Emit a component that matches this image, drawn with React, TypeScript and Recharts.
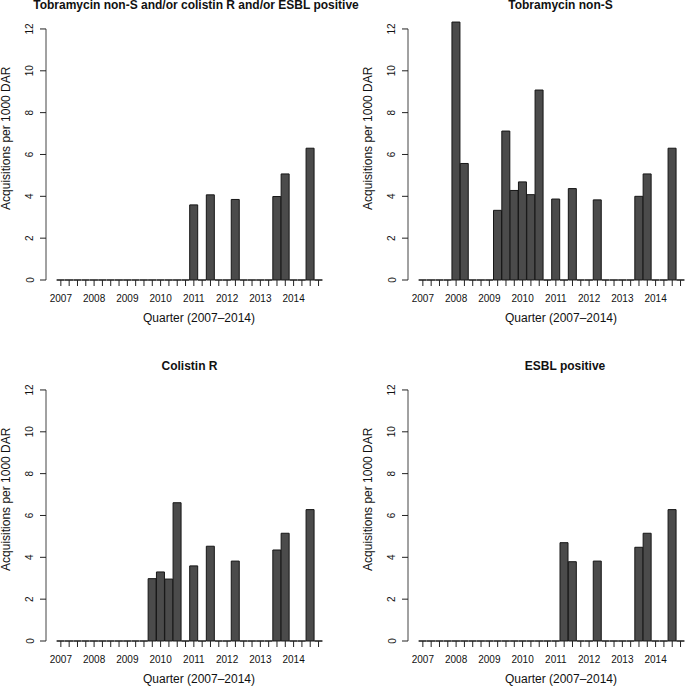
import React from 'react';
import { BarChart, Bar, XAxis, YAxis, ReferenceLine } from 'recharts';

// quarters 2007 Q1 .. 2014 Q4
const years = [2007, 2008, 2009, 2010, 2011, 2012, 2013, 2014];
const quarters = years.flatMap((y) => [1, 2, 3, 4].map((q) => `${y} Q${q}`));

// acquisitions per 1000 DAR, one value per quarter
const anyResistance = [
  0, 0, 0, 0, 0, 0, 0, 0, 0, 0, 0, 0, 0, 0, 0, 0,
  3.59, 0, 4.07, 0, 0, 3.85, 0, 0, 0, 0, 3.99, 5.07, 0, 0, 6.3, 0,
];
const tobramycin = [
  0, 0, 0, 0, 12.33, 5.57, 0, 0, 0, 3.33, 7.12, 4.28, 4.69, 4.08, 9.08, 0,
  3.87, 0, 4.37, 0, 0, 3.83, 0, 0, 0, 0, 4.0, 5.07, 0, 0, 6.3, 0,
];
const colistin = [
  0, 0, 0, 0, 0, 0, 0, 0, 0, 0, 0, 2.98, 3.3, 2.96, 6.61, 0,
  3.59, 0, 4.53, 0, 0, 3.82, 0, 0, 0, 0, 4.35, 5.15, 0, 0, 6.28, 0,
];
const esbl = [
  0, 0, 0, 0, 0, 0, 0, 0, 0, 0, 0, 0, 0, 0, 0, 0,
  0, 4.7, 3.79, 0, 0, 3.82, 0, 0, 0, 0, 4.48, 5.15, 0, 0, 6.28, 0,
];

const yTicks = [0, 2, 4, 6, 8, 10, 12];
const xTitle = 'Quarter (2007\u20132014)';
const yTitle = 'Acquisitions per 1000 DAR';

const FONT = '"Liberation Sans", Arial, Helvetica, sans-serif';
const INK = '#111';

// R draws zero bars as a flat outline, so the shape is a path (works for height 0)
const QuarterBar = (props: any) => {
  const { x, y, width, height } = props;
  if (x == null || y == null) return null;
  return (
    <path
      d={`M${x},${y + height}V${y}H${x + width}V${y + height}Z`}
      fill="#4b4b4b"
      stroke="#161616"
      strokeWidth={1}
    />
  );
};

const YTick = (props: any) => {
  const { x, y, payload } = props;
  return (
    <text x={x} y={y} transform={`rotate(-90, ${x}, ${y})`} textAnchor="middle" fontSize={10} fill={INK}>
      {payload.value}
    </text>
  );
};

const XTitle = (props: any) => {
  const vb = props.viewBox || { x: 46, y: 280, width: 306, height: 81 };
  return (
    <text x={vb.x + vb.width / 2} y={vb.y + 42.2} textAnchor="middle" fontSize={12} fill={INK}>
      {xTitle}
    </text>
  );
};

const YTitle = (props: any) => {
  const vb = props.viewBox || { x: 0, y: 18.5, width: 46, height: 261.5 };
  const cx = vb.x + 9.5;
  const cy = vb.y + vb.height / 2 - 11;
  return (
    <text x={cx} y={cy} transform={`rotate(-90, ${cx}, ${cy})`} textAnchor="middle" fontSize={12} fill={INK}>
      {yTitle}
    </text>
  );
};

type PanelProps = { title: string; values: number[]; left: number; top: number; titleX: number };

const Panel = ({ title, values, left, top, titleX }: PanelProps) => {
  const data = quarters.map((q, i) => ({ quarter: q, value: values[i] }));
  return (
    <div style={{ position: 'absolute', left, top, width: 360, height: 361 }}>
      <BarChart
        width={360}
        height={361}
        data={data}
        margin={{ top: 18.5, right: 8, bottom: 0, left: 0 }}
        barCategoryGap={0}
        barGap={0}
      >
        <XAxis
          xAxisId="q"
          dataKey="quarter"
          interval={0}
          height={81}
          padding={{ left: 10.7, right: 29.3 }}
          axisLine={false}
          tickLine={{ stroke: '#222' }}
          tickSize={6}
          tickMargin={9}
          tick={{ fontSize: 10, fill: INK }}
          tickFormatter={(q: string) => (q.endsWith('Q1') ? q.slice(0, 4) : '')}
          label={{ content: <XTitle /> }}
        />
        <XAxis xAxisId="n" type="number" domain={[0, 1]} height={0} hide />
        <YAxis
          width={46}
          domain={[0, 12.5]}
          ticks={yTicks}
          interval={0}
          axisLine={false}
          tickLine={{ stroke: '#222' }}
          tickSize={6}
          tickMargin={6.5}
          tick={<YTick />}
          label={{ content: <YTitle /> }}
        />
        <ReferenceLine
          xAxisId="n"
          segment={[{ x: 0, y: 0 }, { x: 0, y: 12 }]}
          stroke="#444"
          strokeWidth={1}
        />
        <Bar xAxisId="q" dataKey="value" shape={<QuarterBar />} isAnimationActive={false} />
      </BarChart>
      <svg
        width={360}
        height={20}
        style={{ position: 'absolute', left: 0, top: 0, overflow: 'visible', pointerEvents: 'none' }}
      >
        <text x={titleX} y={9.2} textAnchor="middle" fontSize={12} fontWeight="bold" fill={INK}>
          {title}
        </text>
      </svg>
    </div>
  );
};

export default function App() {
  return (
    <div
      style={{
        position: 'absolute',
        left: 0,
        top: 0,
        width: 685,
        height: 690,
        overflow: 'hidden',
        background: '#fff',
        fontFamily: FONT,
      }}
    >
      <Panel title="Tobramycin non-S and/or colistin R and/or ESBL positive" values={anyResistance} left={0} top={0} titleX={196} />
      <Panel title="Tobramycin non-S" values={tobramycin} left={362} top={0} titleX={198.5} />
      <Panel title="Colistin R" values={colistin} left={0} top={361} titleX={189.5} />
      <Panel title="ESBL positive" values={esbl} left={362} top={361} titleX={203} />
    </div>
  );
}
